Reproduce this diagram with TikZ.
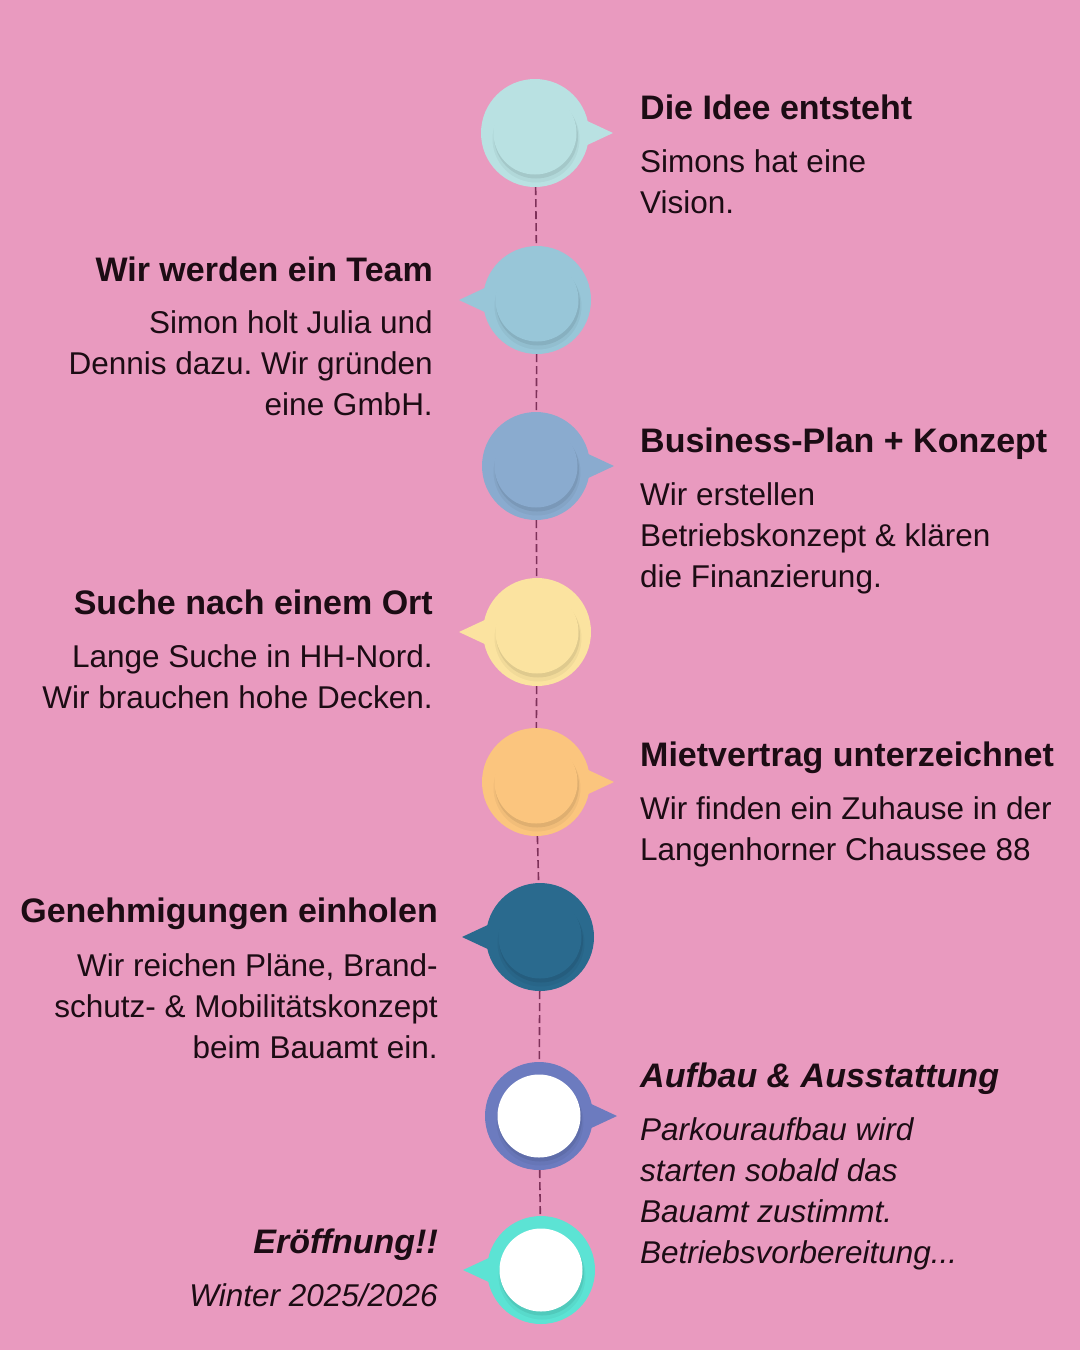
\documentclass[tikz,border=0pt]{standalone}
\usepackage{fontspec}
\setmainfont{Liberation Sans}
\usetikzlibrary{positioning}
\frenchspacing
\definecolor{bgpink}{HTML}{E99ABF}
\definecolor{ink}{HTML}{1C0C14}
\definecolor{linkplum}{HTML}{7E3159}
\definecolor{stepA}{HTML}{B9E1E2}
\definecolor{stepB}{HTML}{98C6D8}
\definecolor{stepC}{HTML}{8AABCF}
\definecolor{stepD}{HTML}{FBE3A0}
\definecolor{stepE}{HTML}{FBC57E}
\definecolor{stepF}{HTML}{2A6A8E}
\definecolor{stepG}{HTML}{6C7BBF}
\definecolor{stepH}{HTML}{5CE3D4}

\begin{document}
\begin{tikzpicture}[x=1pt, y=-1pt,
            dot/.style={circle, inner sep=0pt, minimum size=108pt},
            link/.style={draw=linkplum, line width=1.6pt, dash pattern=on 8pt off 4pt},
            head/.style={font=\bfseries\fontsize{34}{40}\selectfont, text=ink, inner sep=0pt},
            body/.style={font=\fontsize{31.5}{41}\selectfont, text=ink, inner sep=0pt}
        ]
        \fill[bgpink] (0,0) rectangle (1080,1350);
        \useasboundingbox (0,0) rectangle (1080,1350);

        % --- timeline dots: name/x/y/colour/inner/pointer side ---
        \foreach \n/\x/\y/\col/\inn/\s in {1/535/133/stepA/stepA/1, 2/537/300/stepB/stepB/-1,
                3/536/466/stepC/stepC/1, 4/537/632/stepD/stepD/-1, 5/536/782/stepE/stepE/1,
                6/540/937/stepF/stepF/-1, 7/539/1116/stepG/white/1, 8/541/1270/stepH/white/-1} {
            \node[dot, fill=\col] (c\n) at (\x,\y) {};
            \fill[\col] ([xshift=\s*48pt, yshift=14pt]c\n.center) -- ([xshift=\s*78pt]c\n.center)
                -- ([xshift=\s*48pt, yshift=-14pt]c\n.center) -- cycle;
            \fill[black, opacity=0.04] ([xshift=1pt, yshift=-6pt]c\n.center) circle (43.5pt);
            \fill[black, opacity=0.07] ([xshift=1pt, yshift=-3.5pt]c\n.center) circle (42pt);
            \fill[\inn] (c\n.center) circle (41.5pt);
        }

        % --- dashed connectors ---
        \draw[link] (c1) -- (c2);
        \draw[link] (c2) -- (c3);
        \draw[link] (c3) -- (c4);
        \draw[link] (c4) -- (c5);
        \draw[link] (c5) -- (c6);
        \draw[link] (c6) -- (c7);
        \draw[link] (c7) -- (c8);

        % --- texts (multi-line nodes sit on their last line) ---
        \node[head, anchor=base west] (t1) at (640,119) {Die Idee entsteht};
        \node[body, anchor=base west, align=left] (d1) at (640,213) {Simons hat eine\\Vision.};

        \node[head, anchor=base east] (t2) at (433,281) {Wir werden ein Team};
        \node[body, anchor=base east, align=right] (d2) at (433,415) {Simon holt Julia und\\Dennis dazu. Wir gründen\\eine GmbH.};

        \node[head, anchor=base west] (t3) at (640,452) {Business-Plan + Konzept};
        \node[body, anchor=base west, align=left] (d3) at (640,587) {Wir erstellen\\Betriebskonzept \& klären\\die Finanzierung.};

        \node[head, anchor=base east] (t4) at (433,614) {Suche nach einem Ort};
        \node[body, anchor=base east, align=right] (d4) at (433,708) {Lange Suche in HH-Nord.\\Wir brauchen hohe Decken.};

        \node[head, anchor=base west] (t5) at (640,766) {Mietvertrag unterzeichnet};
        \node[body, anchor=base west, align=left] (d5) at (640,860) {Wir finden ein Zuhause in der\\Langenhorner Chaussee 88};

        \node[head, anchor=base east] (t6) at (438,922) {Genehmigungen einholen};
        \node[body, anchor=base east, align=right] (d6) at (438,1058) {Wir reichen Pläne, Brand-\\schutz- \& Mobilitätskonzept\\beim Bauamt ein.};

        \node[head, anchor=base west, font=\bfseries\itshape\fontsize{34}{40}\selectfont] (t7) at (640,1087) {Aufbau \& Ausstattung};
        \node[body, anchor=base west, align=left, font=\itshape\fontsize{31.5}{41}\selectfont] (d7) at (640,1263) {Parkouraufbau wird\\starten sobald das\\Bauamt zustimmt.\\Betriebsvorbereitung...};

        \node[head, anchor=base east, font=\bfseries\itshape\fontsize{34}{40}\selectfont] (t8) at (438,1253) {Eröffnung!!};
        \node[body, anchor=base east, font=\itshape\fontsize{31.5}{41}\selectfont] (d8) at (438,1306) {Winter 2025/2026};
        \end{tikzpicture}
\end{document}
